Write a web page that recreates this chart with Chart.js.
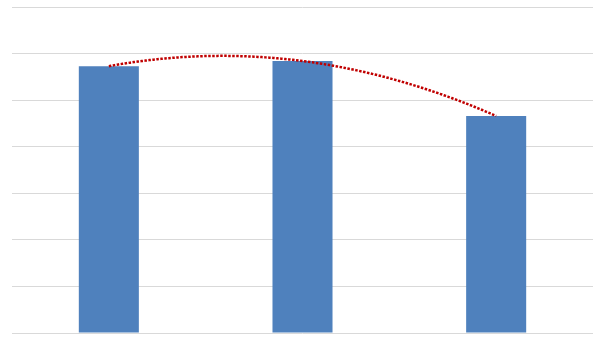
<!DOCTYPE html>
<html>
<head>
<meta charset="utf-8">
<script src="https://cdn.jsdelivr.net/npm/chart.js@4/dist/chart.umd.min.js"></script>
<style>
  html, body { margin: 0; padding: 0; background: #ffffff; }
  #wrap { width: 605px; height: 340px; position: relative; }
</style>
</head>
<body>
<div id="wrap"><canvas id="c"></canvas></div>
<script>
// ---- data ----
const categories = ['1', '2', '3'];
const seriesValues = [5.73, 5.84, 4.66];
const axisMin = 0;
const axisMax = 7;
const axisStep = 1;

// Polynomial (order 2) least-squares trendline, computed from the series like a spreadsheet trendline
function fitQuadratic(ys) {
  const n = ys.length;
  let s0 = 0, s1 = 0, s2 = 0, s3 = 0, s4 = 0, t0 = 0, t1 = 0, t2 = 0;
  for (let i = 0; i < n; i++) {
    const x = i, y = ys[i];
    s0 += 1; s1 += x; s2 += x * x; s3 += x * x * x; s4 += x * x * x * x;
    t0 += y; t1 += x * y; t2 += x * x * y;
  }
  const M = [[s0, s1, s2, t0], [s1, s2, s3, t1], [s2, s3, s4, t2]];
  for (let c = 0; c < 3; c++) {
    let p = c;
    for (let r = c + 1; r < 3; r++) if (Math.abs(M[r][c]) > Math.abs(M[p][c])) p = r;
    [M[c], M[p]] = [M[p], M[c]];
    for (let r = 0; r < 3; r++) {
      if (r === c) continue;
      const f = M[r][c] / M[c][c];
      for (let k = c; k < 4; k++) M[r][k] -= f * M[c][k];
    }
  }
  return [M[0][3] / M[0][0], M[1][3] / M[1][1], M[2][3] / M[2][2]];
}

const trendPlugin = {
  id: 'trend',
  afterDatasetsDraw(chart) {
    const xs = chart.scales.x, ys = chart.scales.y;
    const coef = fitQuadratic(seriesValues);
    const n = seriesValues.length;
    const ctx = chart.ctx;
    ctx.save();
    ctx.beginPath();
    const steps = 200;
    for (let s = 0; s <= steps; s++) {
      const u = (n - 1) * s / steps;
      const v = coef[0] + coef[1] * u + coef[2] * u * u;
      const px = xs.getPixelForValue(0) + (xs.getPixelForValue(n - 1) - xs.getPixelForValue(0)) * (u / (n - 1));
      const py = ys.getPixelForValue(v);
      if (s === 0) ctx.moveTo(px, py); else ctx.lineTo(px, py);
    }
    ctx.strokeStyle = '#C00000';
    ctx.lineWidth = 2.5;
    ctx.setLineDash([2.5, 1.5]);
    ctx.lineCap = 'butt';
    ctx.stroke();
    ctx.restore();
  }
};

new Chart(document.getElementById('c'), {
  type: 'bar',
  data: {
    labels: categories,
    datasets: [{
      data: seriesValues,
      backgroundColor: '#4F81BD',
      borderWidth: 0,
      categoryPercentage: 1.0,
      barPercentage: 0.31
    }]
  },
  options: {
    responsive: true,
    maintainAspectRatio: false,
    animation: false,
    layout: { padding: { left: 12, right: 12, top: 7, bottom: 7 } },
    plugins: { legend: { display: false }, tooltip: { enabled: false }, title: { display: false } },
    scales: {
      x: {
        grid: { display: false, drawTicks: false },
        border: { display: false },
        ticks: { display: false }
      },
      y: {
        min: axisMin,
        max: axisMax,
        ticks: { display: false, stepSize: axisStep },
        grid: { color: '#D9D9D9', lineWidth: 1, drawTicks: false },
        border: { display: false }
      }
    }
  },
  plugins: [trendPlugin]
});
</script>
</body>
</html>
